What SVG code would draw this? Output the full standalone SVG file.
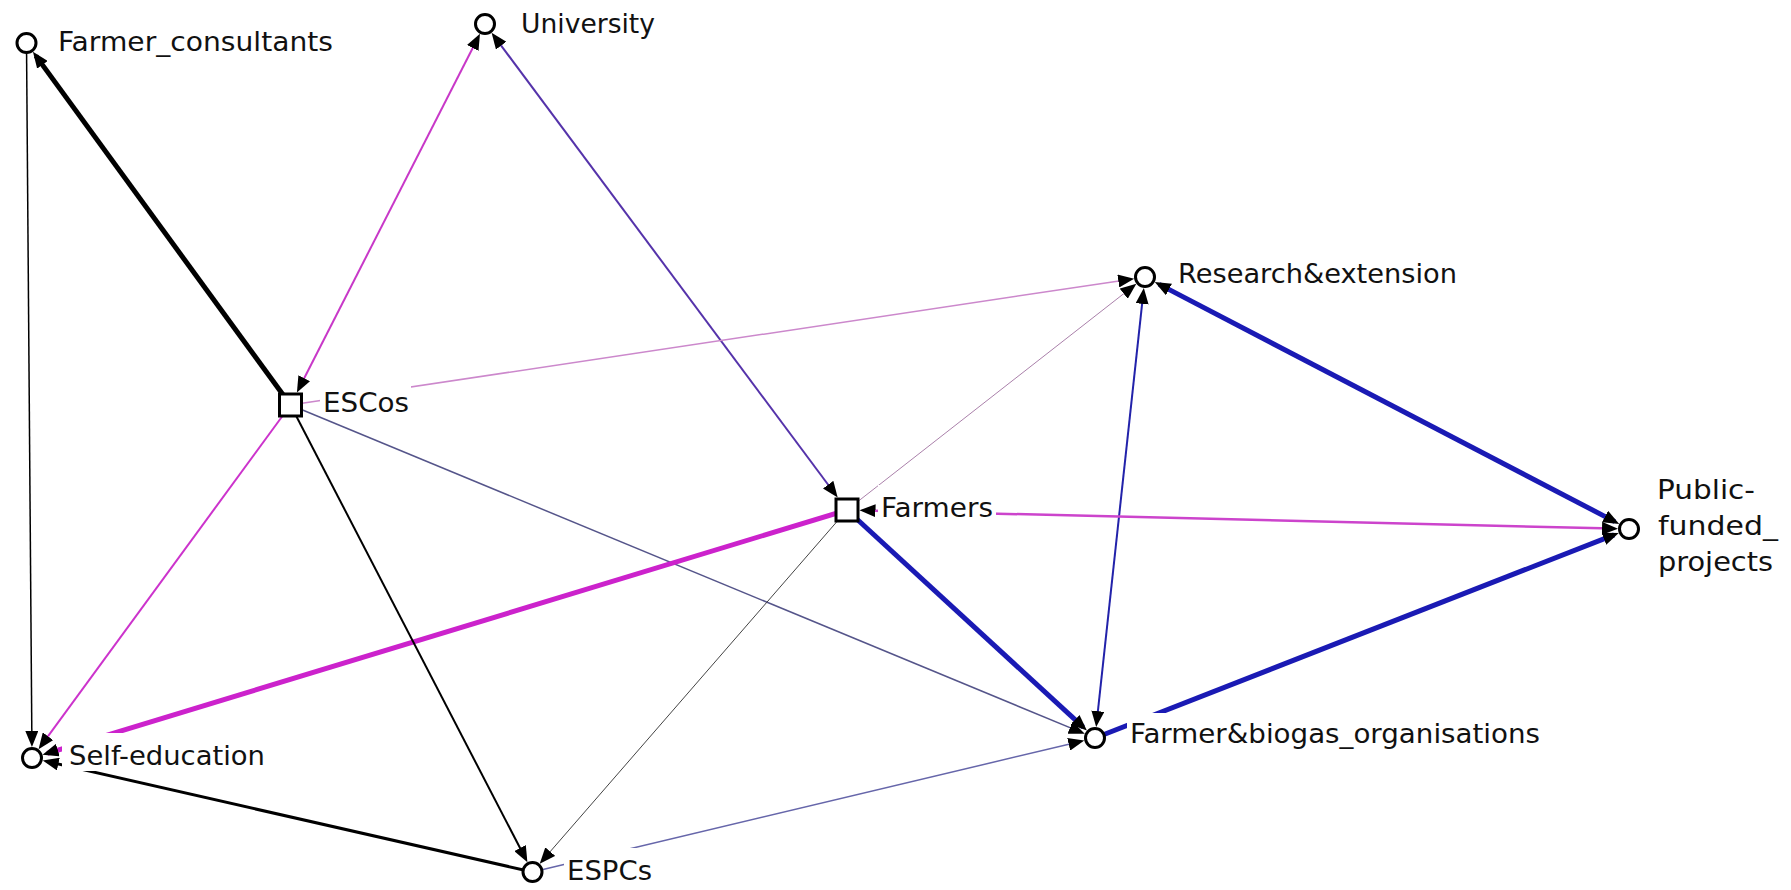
<svg xmlns="http://www.w3.org/2000/svg" width="1791" height="890" viewBox="0 0 1791 890">
<defs>
<marker id="arr" markerUnits="userSpaceOnUse" viewBox="0 0 16 13" markerWidth="16" markerHeight="13" refX="11" refY="6.5" orient="auto-start-reverse">
<path d="M0,0 L16,6.5 L0,13 z" fill="#000"/>
</marker>
<style>
.e{fill:none;stroke-linecap:butt}
.a{marker-end:url(#arr)}
.b{marker-start:url(#arr);marker-end:url(#arr)}
.c{fill:#fff;stroke:#000;stroke-width:3}
.bg{fill:#fff}
.t{font-family:"DejaVu Sans","Liberation Sans",sans-serif;font-size:27px;fill:#111}
</style>
</defs>
<rect width="1791" height="890" fill="#fff"/>
<g id="connectors">
<path class="e a" d="M290.5,405 L35.9,55.9" stroke="#000" stroke-width="5"/>
<path class="e a" d="M26.5,43 L31.9,742" stroke="#000" stroke-width="1.5"/>
<path class="e b" d="M299.2,388 L477.7,38.2" stroke="#c838c8" stroke-width="2"/>
<path class="e b" d="M494.6,36.8 L834.7,493.5" stroke="#5533aa" stroke-width="2"/>
<path class="e a" d="M290.5,405 L1129.2,279.4" stroke="#cc88cc" stroke-width="1.5"/>
<path class="e a" d="M847,510 L1132.4,286.9" stroke="#aa80aa" stroke-width="1"/>
<path class="e b" d="M1096.7,722.1 L1143.3,292.9" stroke="#2222aa" stroke-width="2"/>
<path class="e b" d="M1159.2,284.4 L1614.8,521.6" stroke="#1a1ab4" stroke-width="5"/>
<path class="e b" d="M864.5,510.4 L1613,528.6" stroke="#cc44cc" stroke-width="2.5"/>
<path class="e a" d="M1095,738 L1614.1,534.8" stroke="#1a1ab4" stroke-width="5"/>
<path class="e a" d="M847,510 L1083.2,727.2" stroke="#1a1ab4" stroke-width="5"/>
<path class="e a" d="M290.5,405 L1080.2,731.9" stroke="#55558a" stroke-width="1.5"/>
<path class="e a" d="M532.5,872 L1079.4,741.7" stroke="#6666aa" stroke-width="1.5"/>
<path class="e a" d="M847,510 L47.3,753.3" stroke="#cc22cc" stroke-width="5"/>
<path class="e a" d="M290.5,405 L41.5,745.1" stroke="#cc33cc" stroke-width="2"/>
<path class="e a" d="M290.5,405 L525.1,857.8" stroke="#000" stroke-width="2"/>
<path class="e a" d="M847,510 L543,859.9" stroke="#444" stroke-width="1"/>
<path class="e a" d="M532.5,872 L47.6,761.6" stroke="#000" stroke-width="3"/>
</g>
<g id="node-farmer-consultants">
<circle class="c" cx="26.5" cy="43" r="9.5"/>
<rect class="bg" x="55" y="19" width="282" height="38"/>
<text class="t" x="58" y="51" textLength="275" lengthAdjust="spacingAndGlyphs">Farmer_consultants</text>
</g>
<g id="node-university">
<circle class="c" cx="485" cy="24" r="9.5"/>
<rect class="bg" x="518" y="1" width="140" height="38"/>
<text class="t" x="521" y="33" textLength="134" lengthAdjust="spacingAndGlyphs">University</text>
</g>
<g id="node-escos">
<rect class="c" x="279.5" y="394" width="22" height="22"/>
<rect class="bg" x="320" y="381" width="91" height="34"/>
<text class="t" x="323" y="412" textLength="86" lengthAdjust="spacingAndGlyphs">ESCos</text>
</g>
<g id="node-farmers">
<rect class="c" x="836" y="499" width="22" height="22"/>
<rect class="bg" x="878" y="485" width="118" height="38"/>
<text class="t" x="881" y="517" textLength="112" lengthAdjust="spacingAndGlyphs">Farmers</text>
</g>
<g id="node-research-extension">
<circle class="c" cx="1145" cy="277" r="9.5"/>
<rect class="bg" x="1175" y="251" width="285" height="38"/>
<text class="t" x="1178" y="283" textLength="279" lengthAdjust="spacingAndGlyphs">Research&amp;extension</text>
</g>
<g id="node-public-funded-projects">
<circle class="c" cx="1629" cy="529" r="9.5"/>
<rect class="bg" x="1654" y="467" width="128" height="110"/>
<text class="t" x="1657" y="499" textLength="98" lengthAdjust="spacingAndGlyphs">Public-</text>
<text class="t" x="1658" y="535" textLength="120" lengthAdjust="spacingAndGlyphs">funded_</text>
<text class="t" x="1658" y="571" textLength="115" lengthAdjust="spacingAndGlyphs">projects</text>
</g>
<g id="node-farmer-biogas-organisations">
<circle class="c" cx="1095" cy="738" r="9.5"/>
<rect class="bg" x="1127" y="713" width="416" height="36"/>
<text class="t" x="1130" y="743" textLength="410" lengthAdjust="spacingAndGlyphs">Farmer&amp;biogas_organisations</text>
</g>
<g id="node-self-education">
<circle class="c" cx="32" cy="758" r="9.5"/>
<rect class="bg" x="62" y="733" width="206" height="38"/>
<text class="t" x="69" y="765" textLength="196" lengthAdjust="spacingAndGlyphs">Self-education</text>
</g>
<g id="node-espcs">
<rect class="bg" x="564" y="848" width="91" height="38"/>
<circle class="c" cx="532.5" cy="872" r="9.5"/>
<text class="t" x="567" y="880" textLength="85" lengthAdjust="spacingAndGlyphs">ESPCs</text>
</g>
</svg>
